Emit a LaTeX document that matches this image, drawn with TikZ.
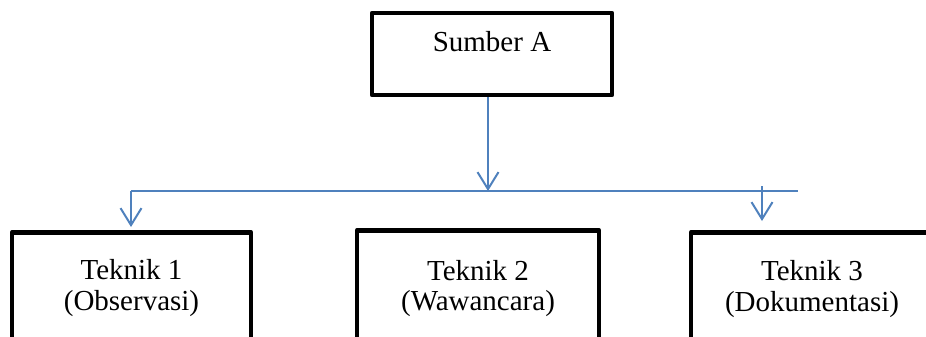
\documentclass[tikz,border=0pt]{standalone}
\usepackage{fontspec}
\setmainfont{Liberation Serif}
\usetikzlibrary{arrows.meta}
\definecolor{linkblue}{RGB}{79,129,189}
\tikzset{
  box/.style={draw=black, line width=4.5pt, line join=round, fill=white, rectangle, inner sep=0pt},
  txt/.style={anchor=base, inner sep=0pt, font=\fontsize{29}{31}\selectfont},
  link/.style={draw=linkblue, line width=2pt},
  tip/.style={-{Straight Barb[length=17pt, width=21pt, line width=2pt]}}
}
\begin{document}
\begin{tikzpicture}[x=1pt, y=-1pt]
  \useasboundingbox (0,0) rectangle (926,337);
  \clip (0,0) rectangle (926,337);

  % source box
  \node[box, minimum width=240pt, minimum height=82pt] (A) at (492,54) {};
  \node[txt] (At) at (492,52) {Sumber A};

  % technique boxes (cut off at the bottom)
  \node[box, minimum width=239pt, minimum height=130pt, anchor=north] (B1) at (131.5,230) {};
  \node[box, minimum width=242pt, minimum height=130pt, anchor=north] (B2) at (478,228) {};
  \node[box, minimum width=242pt, minimum height=130pt, anchor=north] (B3) at (812,230) {};

  \node[txt] (B1a) at (B1.north |- 0,279) {Teknik 1};
  \node[txt] (B1b) at (B1.north |- 0,310) {(Observasi)};
  \node[txt] (B2a) at (B2.north |- 0,280) {Teknik 2};
  \node[txt] (B2b) at (B2.north |- 0,310) {(Wawancara)};
  \node[txt] (B3a) at (B3.north |- 0,280) {Teknik 3};
  \node[txt] (B3b) at (B3.north |- 0,311) {(Dokumentasi)};

  % distribution line
  \coordinate (hl) at (131,191);
  \coordinate (hr) at (798,191);
  \coordinate (a0) at ([xshift=-4pt]A.south);
  \coordinate (t3) at (762,186);

  \draw[link] (hl) -- (hr);
  \draw[link, tip] (a0) -- (a0 |- hl);
  \draw[link, tip, shorten >=3pt] (hl) -- (hl |- B1.north);
  \draw[link, tip, shorten >=9pt] (t3) -- (t3 |- B3.north);
\end{tikzpicture}
\end{document}
